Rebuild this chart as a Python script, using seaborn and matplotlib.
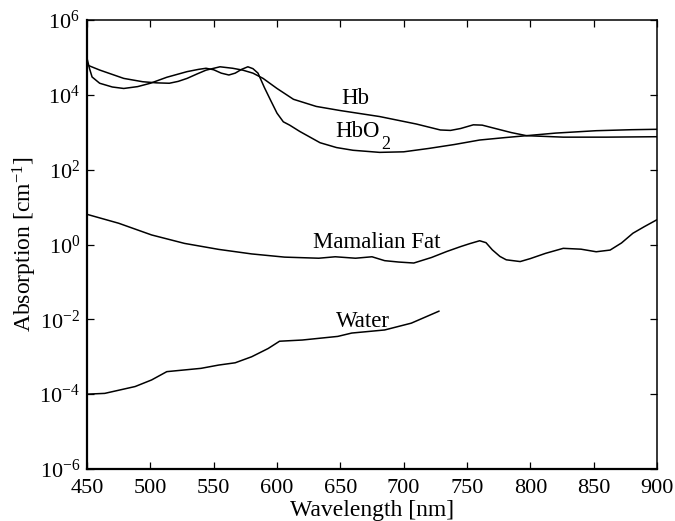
import matplotlib
matplotlib.use("Agg")
import matplotlib.pyplot as plt
import matplotlib.ticker as mticker
import seaborn as sns

# Absorption spectra of tissue chromophores [cm^-1]
hbo2_nm = [450, 452, 454, 460, 470, 479, 490, 500, 513, 529, 538, 544, 550, 556,
           562, 567, 572, 577, 581, 585, 590, 595, 600, 605, 610, 618, 634, 647,
           660, 681, 700, 720, 740, 760, 780, 797, 820, 852, 880, 900]
hbo2 = [95000, 50000, 30000, 20400, 16200, 14800, 16600, 20400, 29500, 41700,
        47900, 51300, 46800, 38000, 33900, 38000, 47900, 56200, 50100, 38000,
        15800, 7100, 3240, 1900, 1550, 1050, 525, 390, 330, 290, 300, 370,
        470, 620, 720, 810, 950, 1100, 1170, 1200]

hb_nm = [450, 460, 479, 494, 505, 515, 522, 529, 537, 544, 555, 565, 573, 581,
         589, 600, 613, 631, 650, 681, 710, 729, 737, 745, 755, 762, 770, 785,
         797, 826, 860, 900]
hb = [63000, 46000, 27500, 22400, 20900, 20400, 22900, 27500, 36300, 45700,
      56200, 51300, 45700, 38000, 27500, 14800, 7600, 4900, 3800, 2630, 1660,
      1150, 1120, 1260, 1580, 1550, 1320, 980, 810, 740, 740, 760]

fat_nm = [450, 475, 501, 527, 554, 580, 606, 633, 646, 662, 675, 685, 696, 708,
          722, 734, 745, 752, 760, 765, 770, 776, 781, 792, 800, 812, 826, 840,
          852, 863, 872, 881, 890, 900]
fat = [6.4, 3.7, 1.8, 1.07, 0.74, 0.56, 0.46, 0.43, 0.47, 0.43, 0.47, 0.37,
       0.34, 0.32, 0.45, 0.65, 0.88, 1.05, 1.26, 1.12, 0.72, 0.48, 0.39, 0.35,
       0.42, 0.58, 0.79, 0.75, 0.64, 0.71, 1.1, 2.0, 3.0, 4.6]

water_nm = [450, 464, 488, 501, 513, 540, 554, 567, 580, 593, 602, 620, 648,
            659, 685, 706, 728]
water = [1.0e-4, 1.05e-4, 1.6e-4, 2.4e-4, 4.0e-4, 4.9e-4, 6.0e-4, 6.9e-4,
         1.0e-3, 1.66e-3, 2.6e-3, 2.8e-3, 3.5e-3, 4.3e-3, 5.2e-3, 7.9e-3,
         1.66e-2]

curve_labels = ["Hb", "HbO", "Mamalian Fat", "Water"]
x_ticks = [450, 500, 550, 600, 650, 700, 750, 800, 850, 900]
y_ticks = [1e-6, 1e-4, 1e-2, 1e0, 1e2, 1e4, 1e6]

sns.set_theme(style="ticks")
plt.rcParams["font.family"] = ["Liberation Serif", "DejaVu Serif"]
plt.rcParams["mathtext.fontset"] = "custom"
plt.rcParams["mathtext.rm"] = "Liberation Serif"
plt.rcParams["mathtext.it"] = "Liberation Serif:italic"
plt.rcParams["mathtext.default"] = "regular"
plt.rcParams["text.color"] = "black"
plt.rcParams["axes.labelcolor"] = "black"

fig = plt.figure(figsize=(6.75, 5.21), dpi=100)
ax = fig.add_axes([0.1289, 0.0998, 0.8444, 0.8618])

for xs, ys in [(hbo2_nm, hbo2), (hb_nm, hb), (fat_nm, fat), (water_nm, water)]:
    sns.lineplot(x=xs, y=ys, ax=ax, color="black", linewidth=1.1,
                 estimator=None, sort=False)

ax.set_yscale("log")
ax.set_xlim(450, 900)
ax.set_ylim(1e-6, 1e6)
ax.set_xticks(x_ticks)
ax.set_yticks(y_ticks)
ax.yaxis.set_minor_locator(mticker.NullLocator())
ax.yaxis.set_major_formatter(mticker.LogFormatterSciNotation())

ax.tick_params(axis="both", which="major", direction="in", length=5,
               width=0.9, top=True, right=True, labelsize=16,
               colors="black")
ax.tick_params(axis="x", pad=7.5)
ax.tick_params(axis="y", pad=5)
for side in ["left", "bottom"]:
    ax.spines[side].set_linewidth(1.6)
for side in ["top", "right"]:
    ax.spines[side].set_linewidth(1.1)
for s in ax.spines.values():
    s.set_color("black")

ax.set_xlabel("Wavelength [nm]", fontsize=17, labelpad=1)
ax.set_ylabel(r"Absorption [cm$^{-1}$]", fontsize=17, labelpad=0)

label_specs = [
    (662, 5700, "center"),
    (646, 730, "left"),
    (678.5, 0.81, "center"),
    (667.5, 0.0064, "center"),
]
label_artists = []
for txt, (lx, ly, ha) in zip(curve_labels, label_specs):
    label_artists.append(ax.text(lx, ly, txt, fontsize=16.5, ha=ha,
                                 va="baseline", color="black"))

# Subscript of HbO2, set low beside its label
ax.annotate("2", xy=(1, 0), xycoords=label_artists[1], xytext=(1, -4.5),
            textcoords="offset points", fontsize=13, ha="left",
            va="baseline", color="black")

fig.savefig("out.png", dpi=100)
